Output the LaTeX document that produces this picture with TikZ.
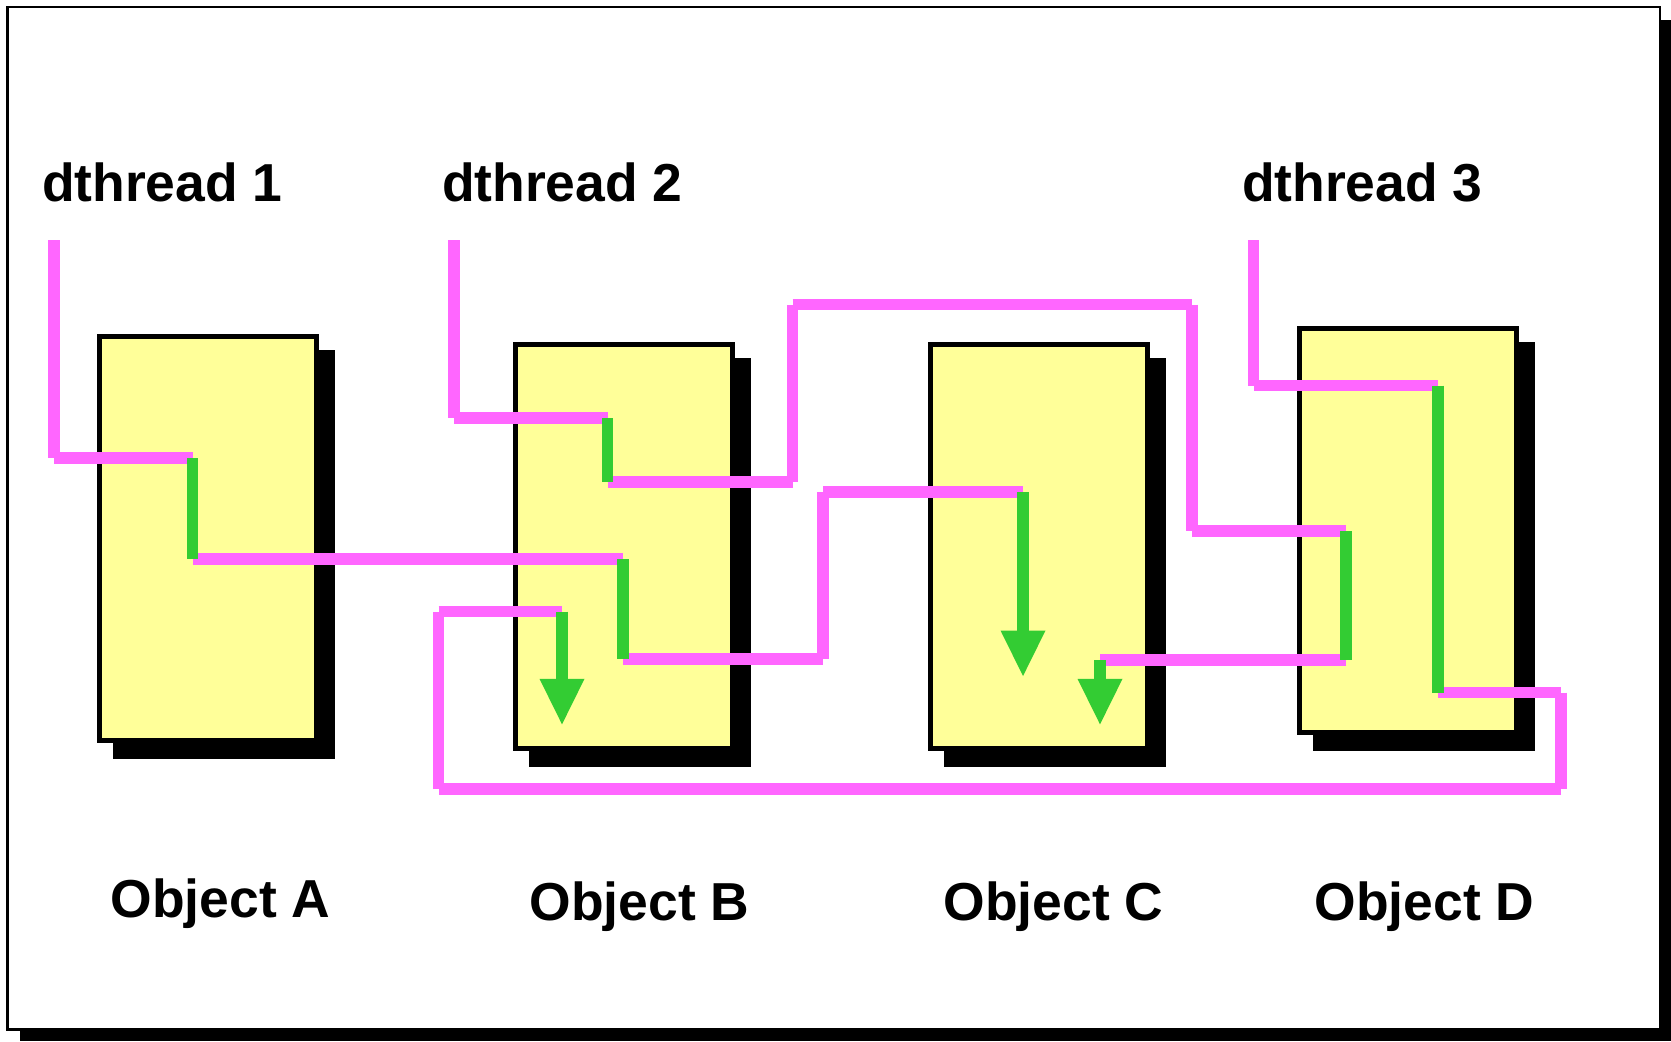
\documentclass[tikz,border=0pt]{standalone}
\usepackage{fontspec}
\setmainfont{Liberation Sans}
\usetikzlibrary{backgrounds,calc}

\definecolor{threadpink}{HTML}{FF66FF}
\definecolor{rungreen}{HTML}{33CC33}
\definecolor{objfill}{HTML}{FFFF99}

% filled arrowhead whose tip sits on the given coordinate, pointing down
\newcommand\runhead[1]{%
  \fill[rungreen] ($(#1)+(-22.5,-45.5)$) -- ($(#1)+(22.5,-45.5)$) -- (#1) -- cycle;}

\begin{document}
\begin{tikzpicture}[x=0.01cm,y=-0.01cm,
  objbox/.style={draw=black, line width=0.5mm, fill=objfill,
    minimum width=2.17cm, minimum height=4.035cm, inner sep=0pt},
  pathseg/.style={draw=threadpink, line width=1.15mm, line cap=butt},
  runseg/.style={draw=rungreen, line width=1.15mm, line cap=butt},
  lbl/.style={font=\fontsize{15.2}{18}\selectfont\bfseries, inner sep=0pt, anchor=base west},
]
\useasboundingbox (0,0) rectangle (1671,1041);

% objects
\node[objbox] (A) at (208,538.5) {};
\node[objbox] (B) at (623.6,546.5) {};
\node[objbox] (C) at (1039.2,546.5) {};
\node[objbox] (D) at (1408,530.7) {};

% frame and drop shadows behind everything
\begin{scope}[on background layer]
  \fill[black] (20,20) rectangle (1671,1041);
  \filldraw[fill=white, draw=black, line width=0.25mm] (7.5,7) rectangle (1660,1029.5);
  \foreach \b in {A,B,C,D}
    \fill[black] ([shift={(16,16)}]\b.north west) rectangle ([shift={(16,16)}]\b.south east);
\end{scope}

% titles
\node[lbl] (h1) at (41.3,201.5) {dthread 1};
\node[lbl] (h2) at (441.3,201.5) {dthread 2};
\node[lbl] (h3) at (1241.3,201.5) {dthread 3};
\node[lbl] (oA) at (110,917) {Object A};
\node[lbl] (oB) at (529,920) {Object B};
\node[lbl] (oC) at (943,920) {Object C};
\node[lbl] (oD) at (1314,920) {Object D};

% thread 1 waypoints
\coordinate (p1s) at (54,240);
\coordinate (p1k) at (54,458);
\coordinate (p1a) at (192.5,458);
\coordinate (p1ae) at (192.5,559);
\coordinate (p1b) at (623,559);
\coordinate (p1be) at (623,659);
\coordinate (p1m) at (823,659);
\coordinate (p1n) at (823,492);
\coordinate (p1c) at (1023,492);
\coordinate (p1tip) at (1023,676);

% thread 2 waypoints
\coordinate (p2s) at (454,240);
\coordinate (p2k) at (454,418);
\coordinate (p2b) at (607.5,418);
\coordinate (p2be) at (607.5,482);
\coordinate (p2m) at (792.5,482);
\coordinate (p2n) at (792.5,304.5);
\coordinate (p2o) at (1192,304.5);
\coordinate (p2p) at (1192,531);
\coordinate (p2d) at (1346,531);
\coordinate (p2de) at (1346,660);
\coordinate (p2c) at (1100,660);
\coordinate (p2tip) at (1100,724.3);

% thread 3 waypoints
\coordinate (p3s) at (1253.5,240);
\coordinate (p3k) at (1253.5,385.5);
\coordinate (p3d) at (1438,385.5);
\coordinate (p3de) at (1438,692.5);
\coordinate (p3m) at (1561,692.5);
\coordinate (p3n) at (1561,789);
\coordinate (p3o) at (438.5,789);
\coordinate (p3p) at (438.5,611.5);
\coordinate (p3b) at (562,611.5);
\coordinate (p3tip) at (562,724.3);

% thread paths between objects
\foreach \p/\q in {p1s/p1k, p1k/p1a, p1ae/p1b, p1be/p1m, p1m/p1n, p1n/p1c,
                   p2s/p2k, p2k/p2b, p2be/p2m, p2m/p2n, p2n/p2o, p2o/p2p, p2p/p2d, p2de/p2c,
                   p3s/p3k, p3k/p3d, p3de/p3m, p3m/p3n, p3n/p3o, p3o/p3p, p3p/p3b}
  \draw[pathseg] (\p) -- (\q);

% execution inside objects
\foreach \p/\q in {p1a/p1ae, p1b/p1be, p2b/p2be, p2d/p2de, p3d/p3de}
  \draw[runseg] (\p) -- (\q);
\draw[runseg] (p1c) -- ($(p1tip)+(0,-44)$);
\draw[runseg] (p2c) -- ($(p2tip)+(0,-44)$);
\draw[runseg] (p3b) -- ($(p3tip)+(0,-44)$);
\runhead{p1tip}
\runhead{p2tip}
\runhead{p3tip}
\end{tikzpicture}
\end{document}
